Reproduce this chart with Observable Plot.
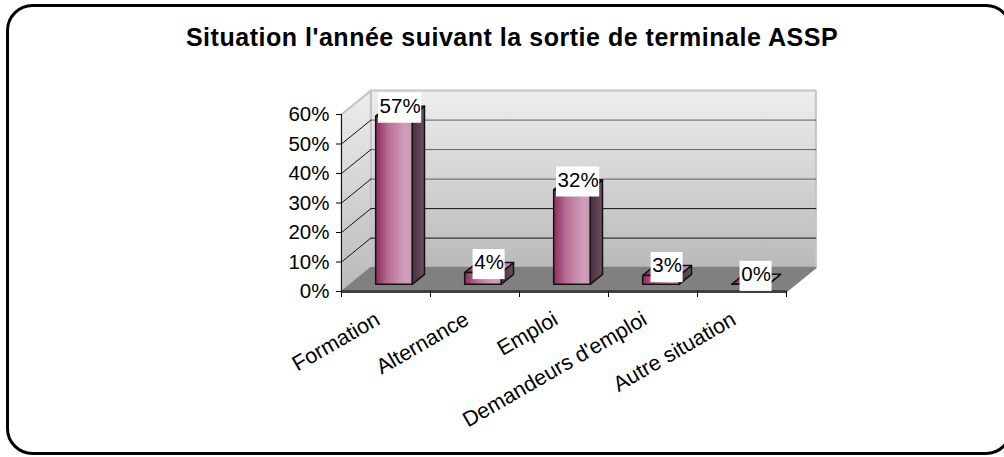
<!DOCTYPE html>
<html><head><meta charset="utf-8">
<script src="https://cdn.jsdelivr.net/npm/d3@7"></script>
<script src="https://cdn.jsdelivr.net/npm/@observablehq/plot@0.6"></script>
<style>html,body{margin:0;padding:0;background:#fff}svg{display:block}</style>
</head><body><div id="chart"></div>
<script>
const categories = ["Formation","Alternance","Emploi","Demandeurs d'emploi","Autre situation"];
const values = [57,4,32,3,0];
const labels = ["57%","4%","32%","3%","0%"];
const yTicks = [0,10,20,30,40,50,60];
const xTicks = [0,1,2,3,4,5];
const title = "Situation l'année suivant la sortie de terminale ASSP";

// oblique projection: depth in data units
const ddx = 0.33, ddy = 8.1;
const P = (x,y,d) => ({px:x+d*ddx, py:y+d*ddy});
const bx0 = i => i+0.285, bx1 = i => i+0.695, d0 = 0.3, d1 = 0.72;

const bars = values.map((v,i)=>({i,v}));
const poly = (fn) => bars.flatMap(b => fn(b).map(p=>({...p,i:b.i})));
const sideFace = poly(({i,v})=>[P(bx1(i),0,d0),P(bx1(i),v,d0),P(bx1(i),v,d1),P(bx1(i),0,d1)]);
const topFace = poly(({i,v})=>[P(bx0(i),v,d0),P(bx1(i),v,d0),P(bx1(i),v,d1),P(bx0(i),v,d1)]);
const frontFace = poly(({i,v})=>[P(bx0(i),0,d0),P(bx1(i),0,d0),P(bx1(i),v,d0),P(bx0(i),v,d0)]);

const backWall = [P(0,0,1),P(5,0,1),P(5,60,1),P(0,60,1)];
const sideWall = [P(0,0,0),P(0,0,1),P(0,60,1),P(0,60,0)];
const floor = [P(0,0,0),P(5,0,0),P(5,0,1),P(0,0,1)];
const backGrid = yTicks.slice(1,-1).flatMap(v=>[P(0,v,1),P(5,v,1)].map(p=>({...p,v})));
const sideGrid = yTicks.slice(1,-1).flatMap(v=>[P(0,v,0),P(0,v,1)].map(p=>({...p,v})));

// label anchor: middle of the bar top, in data units; box half sizes in data units
const labelPos = bars.map(({i,v})=>{
  const p = P((bx0(i)+bx1(i))/2, v, (d0+d1)/2);
  const hw = labels[i].length===3 ? 0.243 : 0.18;
  return {i, x:p.px, y:p.py+1, x1:p.px-hw, x2:p.px+hw, y1:p.py+1-5.1, y2:p.py+1+5.1, t:labels[i]};
});

const defs = () => {
  const s = d3.create("svg:g");
  const d = s.append("defs");
  const grad = (id,x2,y2,stops) => {
    const g = d.append("linearGradient").attr("id",id).attr("x1",0).attr("y1",0).attr("x2",x2).attr("y2",y2);
    stops.forEach(([o,c])=>g.append("stop").attr("offset",o).attr("stop-color",c));
  };
  grad("wall",0,1,[[0,"#eeeeee"],[1,"#b9b9b9"]]);
  grad("front",1,0,[[0,"#8e2c60"],[0.35,"#b86f96"],[0.8,"#d09ebb"],[1,"#cb95b4"]]);
  grad("side",1,0,[[0,"#4a2d3f"],[1,"#6c5062"]]);
  grad("top",1,0,[[0,"#8e2c60"],[1,"#cb95b4"]]);
  return s.node();
};
const border = () => d3.create("svg:rect").attr("x",7.5).attr("y",5.5).attr("width",1003.5).attr("height",448)
  .attr("rx",25).attr("fill","#fff").attr("stroke","#000").attr("stroke-width",3).node();

const poly3 = (data,opts) => Plot.line(data,{x:"px",y:"py",curve:"linear-closed",...opts});

const plot = Plot.plot({
  width:1004,height:457,
  marginLeft:341,marginRight:218,marginTop:114,marginBottom:166,
  x:{domain:[0,5],axis:null},
  y:{domain:[0,60],axis:null},
  style:{background:"#fff",fontFamily:"'Liberation Sans',Arial,sans-serif",overflow:"hidden"},
  marks:[
    border, defs,
    poly3(backWall,{fill:"url(#wall)",stroke:"#c4c4c4",strokeWidth:2}),
    poly3(sideWall,{fill:"url(#wall)",stroke:"#c4c4c4",strokeWidth:2}),
    poly3(floor,{fill:"#808080",stroke:"#808080"}),
    Plot.line(backGrid,{x:"px",y:"py",z:"v",stroke:d=>d.v>=30?"#5e5e5e":"#111",strokeWidth:1}),
    Plot.line(sideGrid,{x:"px",y:"py",z:"v",stroke:"#111",strokeWidth:1}),
    Plot.ruleY([0],{x1:0,x2:5,stroke:"#404040",strokeWidth:3}),
    Plot.ruleX([0],{y1:0,y2:60,stroke:"#111",strokeWidth:1}),
    Plot.axisY({ticks:yTicks,tickFormat:d=>d+"%",tickSize:5,tickPadding:7,fontSize:20.5,anchor:"left",label:null,textStroke:"none"}),
    Plot.axisX({ticks:xTicks,tickFormat:()=>"",tickSize:6,anchor:"bottom",label:null}),
    poly3(sideFace,{z:"i",fill:"url(#side)",stroke:"#111"}),
    poly3(topFace,{z:"i",fill:"url(#top)",stroke:"#111"}),
    poly3(frontFace,{z:"i",fill:"url(#front)",stroke:"#111"}),
    Plot.text(categories,{x:(d,i)=>i+0.5,y:0,text:d=>d,rotate:-30,textAnchor:"end",dx:-8,dy:26,fontSize:21.5,fill:"#000"}),
    Plot.rect(labelPos,{x1:"x1",x2:"x2",y1:"y1",y2:"y2",fill:"#fff"}),
    Plot.text(labelPos,{x:"x",y:"y",text:"t",fontSize:20.5,fill:"#000",dy:-2}),
    Plot.text([title],{frameAnchor:"top",text:d=>d,fontSize:25,fontWeight:"bold",fill:"#000",dx:-52,dy:-86})
  ]
});
plot.querySelectorAll("text").forEach(t=>{ if(t.textContent===title) t.style.letterSpacing="0.52px"; });
document.getElementById("chart").appendChild(plot);
</script></body></html>
